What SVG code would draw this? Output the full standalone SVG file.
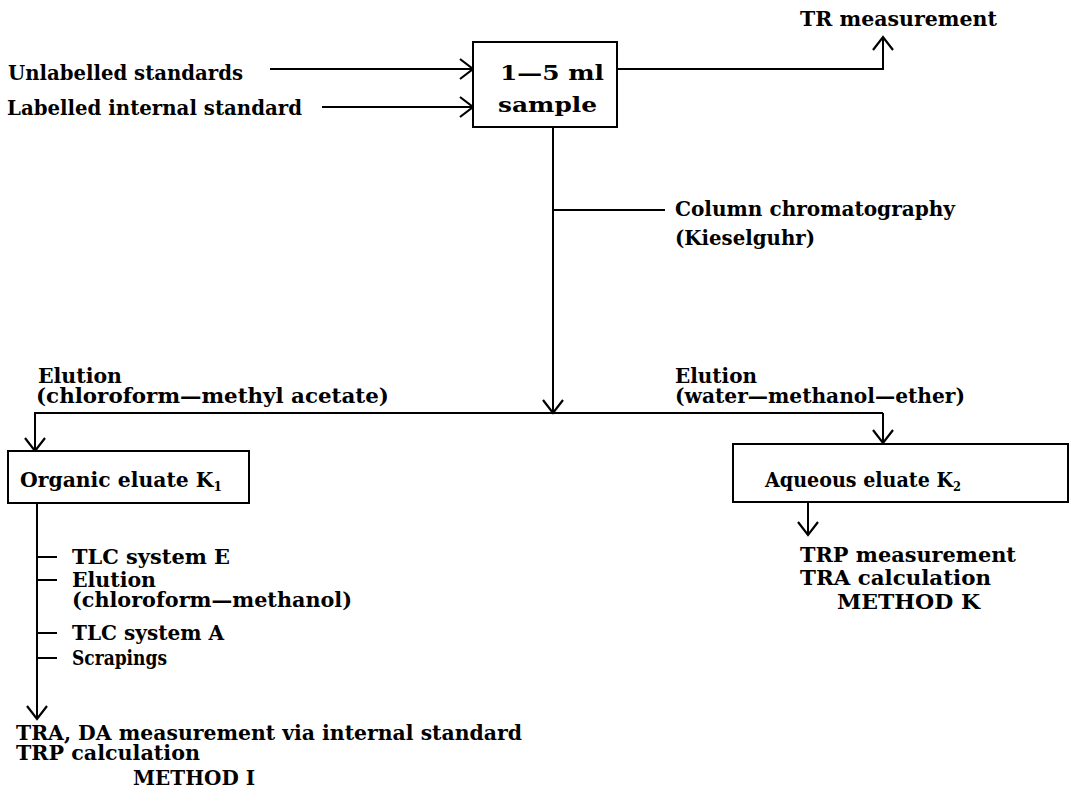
<svg xmlns="http://www.w3.org/2000/svg" width="1071" height="801" viewBox="0 0 1071 801">
<defs>
<style>
text{font-family:"DejaVu Serif","Liberation Serif",serif;font-weight:bold;font-size:20px;fill:#000}
.ln{stroke:#000;stroke-width:2;fill:none}
.box{stroke:#000;stroke-width:2;fill:#fff}
</style>
<marker id="ah" viewBox="0 0 20 24" refX="18" refY="12" markerWidth="20" markerHeight="24" markerUnits="userSpaceOnUse" orient="auto">
<path d="M5,2 L18,12 L5,22" stroke="#000" stroke-width="2.2" fill="none"/>
</marker>
</defs>
<rect width="1071" height="801" fill="#fff"/>
<g id="connectors">
<line class="ln" x1="270" y1="69" x2="473" y2="69" marker-end="url(#ah)"/>
<line class="ln" x1="322" y1="107" x2="473" y2="107" marker-end="url(#ah)"/>
<polyline class="ln" points="617,69 883,69 883,37" marker-end="url(#ah)"/>
<line class="ln" x1="553" y1="127" x2="553" y2="413" marker-end="url(#ah)"/>
<line class="ln" x1="553" y1="210" x2="665" y2="210"/>
<polyline class="ln" points="883,413 35,413 35,451" marker-end="url(#ah)"/>
<line class="ln" x1="883" y1="413" x2="883" y2="443" marker-end="url(#ah)"/>
<line class="ln" x1="37" y1="503" x2="37" y2="719" marker-end="url(#ah)"/>
<line class="ln" x1="37" y1="557" x2="57" y2="557"/>
<line class="ln" x1="37" y1="580" x2="57" y2="580"/>
<line class="ln" x1="37" y1="633" x2="57" y2="633"/>
<line class="ln" x1="37" y1="658" x2="57" y2="658"/>
<line class="ln" x1="808" y1="502" x2="808" y2="535" marker-end="url(#ah)"/>
</g>
<g id="inputs">
<text x="8" y="80" textLength="235" lengthAdjust="spacingAndGlyphs">Unlabelled standards</text>
<text x="7" y="115" textLength="295" lengthAdjust="spacingAndGlyphs">Labelled internal standard</text>
</g>
<g id="sample">
<rect class="box" x="473" y="42" width="144" height="85"/>
<text x="500" y="80" textLength="104" lengthAdjust="spacingAndGlyphs">1—5 ml</text>
<text x="498" y="112" textLength="99" lengthAdjust="spacingAndGlyphs">sample</text>
</g>
<g id="tr">
<text x="800" y="26" textLength="197" lengthAdjust="spacingAndGlyphs">TR measurement</text>
</g>
<g id="column">
<text x="675" y="216" textLength="280" lengthAdjust="spacingAndGlyphs">Column chromatography</text>
<text x="675" y="245" textLength="140" lengthAdjust="spacingAndGlyphs">(Kieselguhr)</text>
</g>
<g id="elution-left">
<text x="38" y="383" textLength="84" lengthAdjust="spacingAndGlyphs">Elution</text>
<text x="36" y="403" textLength="353" lengthAdjust="spacingAndGlyphs">(chloroform—methyl acetate)</text>
</g>
<g id="elution-right">
<text x="675" y="383" textLength="82" lengthAdjust="spacingAndGlyphs">Elution</text>
<text x="675" y="403" textLength="290" lengthAdjust="spacingAndGlyphs">(water—methanol—ether)</text>
</g>
<g id="organic">
<rect class="box" x="8" y="451" width="241" height="52"/>
<text x="20" y="487" textLength="202" lengthAdjust="spacingAndGlyphs">Organic eluate K<tspan font-size="12" dy="4">1</tspan></text>
</g>
<g id="aqueous">
<rect class="box" x="733" y="444" width="335" height="58"/>
<text x="765" y="487" textLength="196" lengthAdjust="spacingAndGlyphs">Aqueous eluate K<tspan font-size="12" dy="4">2</tspan></text>
</g>
<g id="steps">
<text x="72" y="564" textLength="158" lengthAdjust="spacingAndGlyphs">TLC system E</text>
<text x="72" y="587" textLength="84" lengthAdjust="spacingAndGlyphs">Elution</text>
<text x="72" y="607" textLength="280" lengthAdjust="spacingAndGlyphs">(chloroform—methanol)</text>
<text x="72" y="640" textLength="152" lengthAdjust="spacingAndGlyphs">TLC system A</text>
<text x="72" y="665" textLength="95" lengthAdjust="spacingAndGlyphs">Scrapings</text>
</g>
<g id="method-i">
<text x="16" y="740" textLength="506" lengthAdjust="spacingAndGlyphs">TRA, DA measurement via internal standard</text>
<text x="16" y="760" textLength="184" lengthAdjust="spacingAndGlyphs">TRP calculation</text>
<text x="133" y="785" textLength="122" lengthAdjust="spacingAndGlyphs">METHOD I</text>
</g>
<g id="method-k">
<text x="800" y="562" textLength="216" lengthAdjust="spacingAndGlyphs">TRP measurement</text>
<text x="800" y="585" textLength="191" lengthAdjust="spacingAndGlyphs">TRA calculation</text>
<text x="837" y="609" textLength="143" lengthAdjust="spacingAndGlyphs">METHOD K</text>
</g>
</svg>
